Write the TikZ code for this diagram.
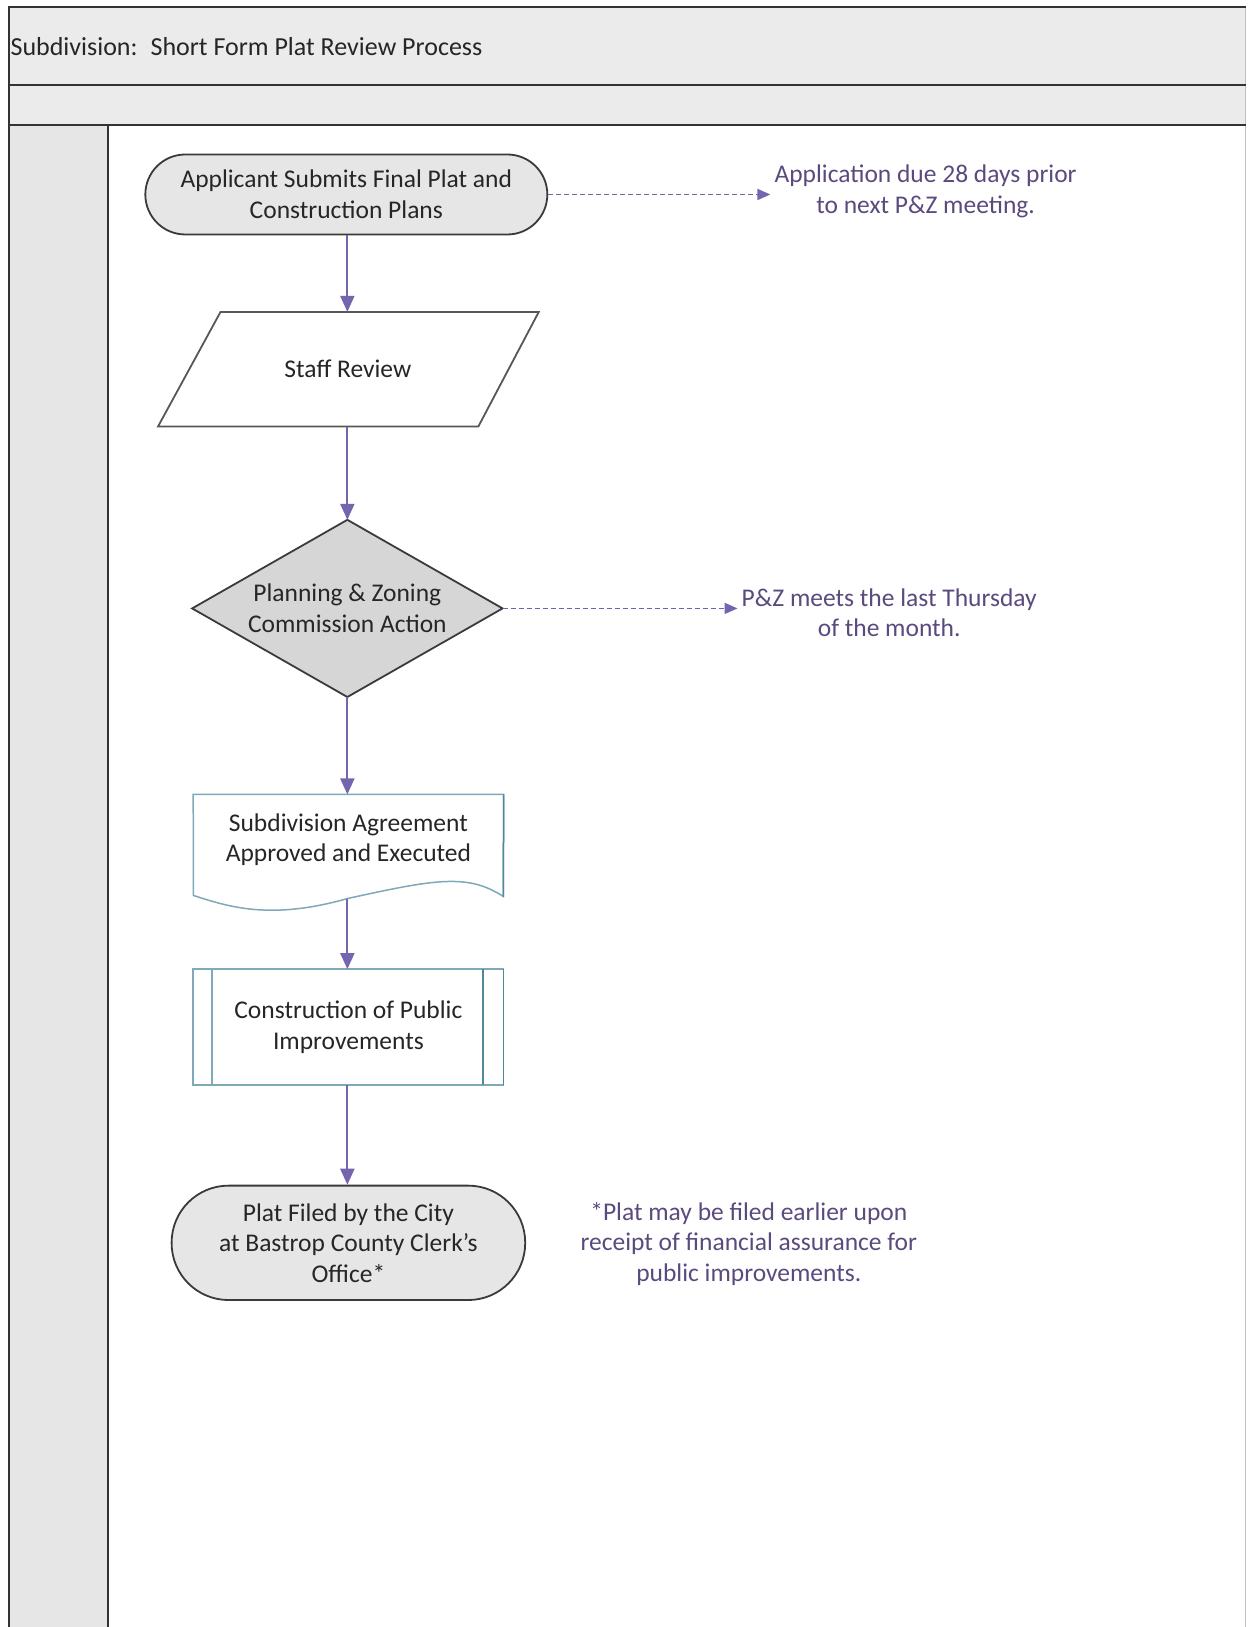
\documentclass[tikz,border=0pt]{standalone}
\usepackage{fontspec}
\setmainfont{Carlito}
\usetikzlibrary{arrows.meta,calc,backgrounds}
\definecolor{hdr}{HTML}{EBEBEB}
\definecolor{lane}{HTML}{E6E6E6}
\definecolor{frameline}{HTML}{333333}
\definecolor{flow}{HTML}{7564AE}
\definecolor{notec}{HTML}{5B4A7E}
\definecolor{termfill}{HTML}{E6E6E6}
\definecolor{diamfill}{HTML}{D6D6D6}
\definecolor{shapeline}{HTML}{3A3A3A}
\definecolor{tealline}{HTML}{7FA9B8}
\definecolor{tealdark}{HTML}{4F8899}
\begin{document}
\begin{tikzpicture}[x=1.04pt,y=-1.04pt,
  every node/.style={font=\fontsize{25.5}{30.5}\selectfont, align=center, text=black!85},
  term/.style={draw=shapeline, line width=1.8pt, fill=termfill},
  ghost/.style={inner sep=0pt},
  notetext/.style={text=notec, inner sep=4pt},
  flowarrow/.style={draw=flow, line width=2pt, -{Triangle[length=16pt,width=14pt]}},
  dasharrow/.style={draw=flow, line width=1.8pt, dash pattern=on 5pt off 3pt, -{Triangle[length=13pt,width=11pt]}}
]
\useasboundingbox (0,0) rectangle (1201,1564.4);
% page background and swimlane frame (behind everything)
\begin{scope}[on background layer]
  \fill[white] (0,0) rectangle (1201,1564.4);
  \fill[hdr] (8,7) rectangle (1198,120);
  \fill[lane] (10,120) rectangle (104,1564.4);
\end{scope}
\draw[black!25, line width=1pt] (1198,7) -- (1198,1564.4);
\draw[frameline, line width=2pt] (8,7) -- (1198,7);
\draw[frameline, line width=2pt] (8,82) -- (1198,82);
\draw[frameline, line width=2pt] (8,120) -- (1198,120);
\draw[frameline, line width=2pt] (9,7) -- (9,1564.4);
\draw[frameline, line width=2pt] (104,120) -- (104,1564.4);
\node[anchor=west, inner sep=0pt, font=\fontsize{26}{30}\selectfont] (title) at (10,45) {Subdivision:\enspace Short Form Plat Review Process};

% nodes
\node[term, rounded corners=40pt, minimum width=402pt, minimum height=80pt] (a) at (333,187)
  {Applicant Submits Final Plat and\\Construction Plans};
\node[ghost, minimum width=379.6pt, minimum height=114.4pt] (b) at (334.5,355) {Staff Review};
\node[ghost, minimum width=310pt, minimum height=176.8pt] (c) at (334,585) {Planning \& Zoning\\Commission Action};
\node[ghost, minimum width=310pt, minimum height=104pt] (d) at (335,814) {};
\node[ghost] (dtext) at (335,807.5) {Subdivision Agreement\\Approved and Executed};
\coordinate (dbot) at (334,864);
\node[ghost, minimum width=310pt, minimum height=115.4pt] (e) at (335,987.5) {Construction of Public\\Improvements};
\node[term, rounded corners=57pt, minimum width=353.6pt, minimum height=114.4pt] (f) at (335,1195)
  {Plat Filed by the City\\at Bastrop County Clerk’s\\Office*};

\node[notetext] (n1) at (890,184) {Application due 28 days prior\\to next P\&Z meeting.};
\node[notetext] (n2) at (855,589) {P\&Z meets the last Thursday\\of the month.};
\node[notetext] (n3) at (720,1196) {*Plat may be filed earlier upon\\receipt of financial assurance for\\public improvements.};

% shapes drawn behind their texts
\begin{scope}[on background layer]
  \draw[shapeline!85, line width=1.8pt, fill=white]
    (212,300) -- (518,300) -- (460,410) -- (152,410) -- cycle;
  \draw[shapeline, line width=1.8pt, fill=diamfill]
    (c.north) -- (c.east) -- (c.south) -- (c.west) -- cycle;
  \draw[tealline, line width=1.5pt, fill=white]
    (d.north west) -- (d.north east) -- (484,862)
    .. controls (450,840) and (420,845) .. (334,864)
    .. controls (260,885) and (220,872) .. (186,861) -- cycle;
  \draw[tealline, line width=1.5pt, fill=white] (e.north west) rectangle (e.south east);
  \draw[tealline, line width=1.3pt] ($(e.north west)+(18,0)$) -- ($(e.south west)+(18,0)$);
  \draw[tealdark, line width=1.5pt] ($(e.north east)+(-20,0)$) -- ($(e.south east)+(-20,0)$);
  \draw[tealdark, line width=1.5pt] (e.north east) -- (e.south east);
  \draw[tealdark, line width=1.5pt] (d.north east) -- (484,862);
\end{scope}

% connectors
\draw[flowarrow] (a.south -| c.north) -- (b.north -| c.north);
\draw[flowarrow] (b.south -| c.north) -- (c.north);
\draw[flowarrow] (c.south) -- (c.south |- d.north);
\draw[flowarrow] (dbot) -- (dbot |- e.north);
\draw[flowarrow] (e.south -| dbot) -- (f.north -| dbot);
\draw[dasharrow] (a.east) -- (a.east -| n1.west);
\draw[dasharrow] (c.east) -- (c.east -| n2.west);
\end{tikzpicture}
\end{document}
